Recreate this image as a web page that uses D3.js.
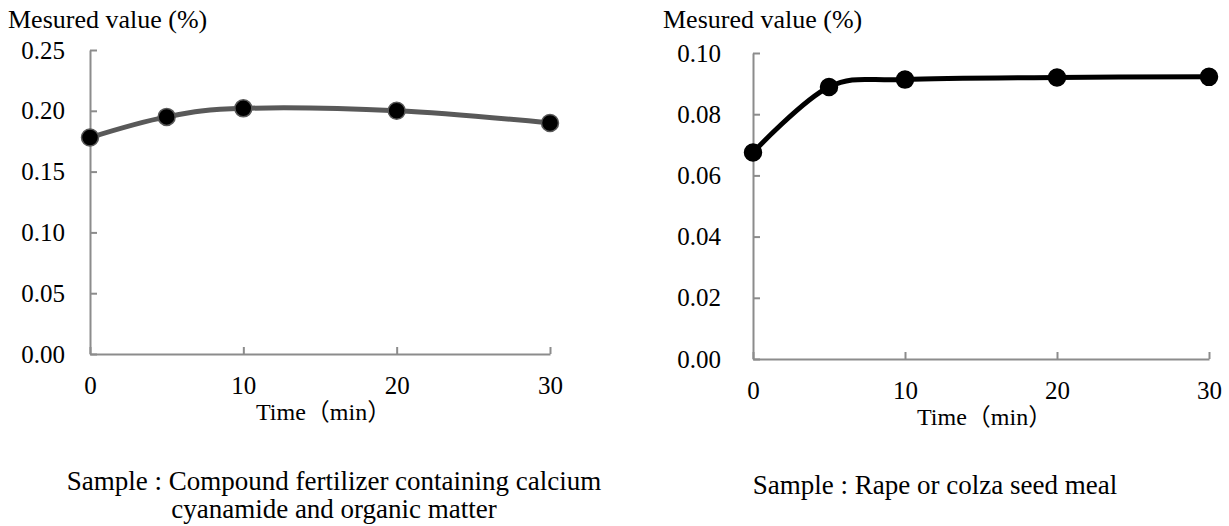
<!DOCTYPE html>
<html>
<head>
<meta charset="utf-8">
<script src="https://cdn.jsdelivr.net/npm/d3@7"></script>
<style>
  html, body { margin: 0; padding: 0; background: #fff; }
  svg { display: block; }
  text { font-family: "Liberation Serif", "Times New Roman", "Noto Sans CJK JP", serif; fill: #000; }
</style>
</head>
<body>
<svg id="chart" width="1229" height="526"></svg>
<script>
// ---- data ----
const times = [0, 5, 10, 20, 30];
const xTicks = [0, 10, 20, 30];
const leftValues = [0.178, 0.195, 0.202, 0.200, 0.190];
const leftYTicks = [0.00, 0.05, 0.10, 0.15, 0.20, 0.25];
const rightValues = [0.0675, 0.0889, 0.0913, 0.0920, 0.0922];
const rightYTicks = [0.00, 0.02, 0.04, 0.06, 0.08, 0.10];
const yTitle = "Mesured value (%)";
const xTitle = "Time（min）";
const leftCaption = ["Sample : Compound fertilizer containing calcium", "cyanamide and organic matter"];
const rightCaption = ["Sample : Rape or colza seed meal"];

const svg = d3.select("#chart");
const axisColor = "#8c8c8c";
const serif = "'Liberation Serif', 'Times New Roman', 'Noto Sans CJK JP', serif";

function panel(cfg) {
  const x = d3.scaleLinear().domain([0, 30]).range([cfg.x0, cfg.x1]);
  const y = d3.scaleLinear().domain([0, cfg.yMax]).range([cfg.yb, cfg.yt]);
  const g = svg.append("g");

  const ya = g.append("g").attr("transform", `translate(${cfg.x0},0)`)
    .call(d3.axisLeft(y).tickValues(cfg.yTicks).tickFormat(d3.format(".2f"))
      .tickSizeInner(-7).tickSizeOuter(0).tickPadding(cfg.yPad));
  const xa = g.append("g").attr("transform", `translate(0,${cfg.yb})`)
    .call(d3.axisBottom(x).tickValues(xTicks).tickFormat(d3.format("d"))
      .tickSizeInner(-7).tickSizeOuter(0).tickPadding(22));
  [ya, xa].forEach(a => {
    a.attr("font-family", serif);
    a.select(".domain").attr("stroke", axisColor).attr("stroke-width", 2);
    a.selectAll(".tick line").attr("stroke", axisColor).attr("stroke-width", 2);
    a.selectAll(".tick text").attr("font-size", 25).style("font-family", serif).attr("fill", "#000");
  });

  const line = d3.line().x((d, i) => x(times[i])).y(d => y(d)).curve(d3.curveCardinal.tension(0));
  g.append("path").datum(cfg.values).attr("d", line)
    .attr("fill", "none").attr("stroke", cfg.lineColor).attr("stroke-width", 5)
    .attr("stroke-linejoin", "round");
  g.selectAll("circle.pt").data(cfg.values).enter().append("circle")
    .attr("cx", (d, i) => x(times[i])).attr("cy", d => y(d)).attr("r", 8.5)
    .attr("fill", "#000").attr("stroke", cfg.markerStroke).attr("stroke-width", 1.5);

  g.append("text").attr("x", cfg.titleX).attr("y", 28).attr("font-size", 26)
    .style("font-family", serif).text(yTitle);
  const cx = (cfg.x0 + cfg.x1) / 2;
  g.append("text").attr("x", cx - 64).attr("y", cfg.yb + 66).attr("font-size", 24)
    .style("font-family", serif).text(xTitle);

  cfg.caption.forEach((t, i) => {
    g.append("text").attr("x", cfg.capX).attr("y", cfg.capY + i * 28)
      .attr("text-anchor", "middle").attr("font-size", 27).style("font-family", serif).text(t);
  });
}

panel({
  x0: 90, x1: 550, yb: 354, yt: 50, yMax: 0.25, yTicks: leftYTicks, yPad: 25,
  values: leftValues, lineColor: "#595959", markerStroke: "#595959",
  titleX: 8, caption: leftCaption, capX: 334, capY: 490
});
panel({
  x0: 753, x1: 1209, yb: 359, yt: 53, yMax: 0.10, yTicks: rightYTicks, yPad: 32,
  values: rightValues, lineColor: "#000", markerStroke: "#000",
  titleX: 663, caption: rightCaption, capX: 935, capY: 494
});
</script>
</body>
</html>
